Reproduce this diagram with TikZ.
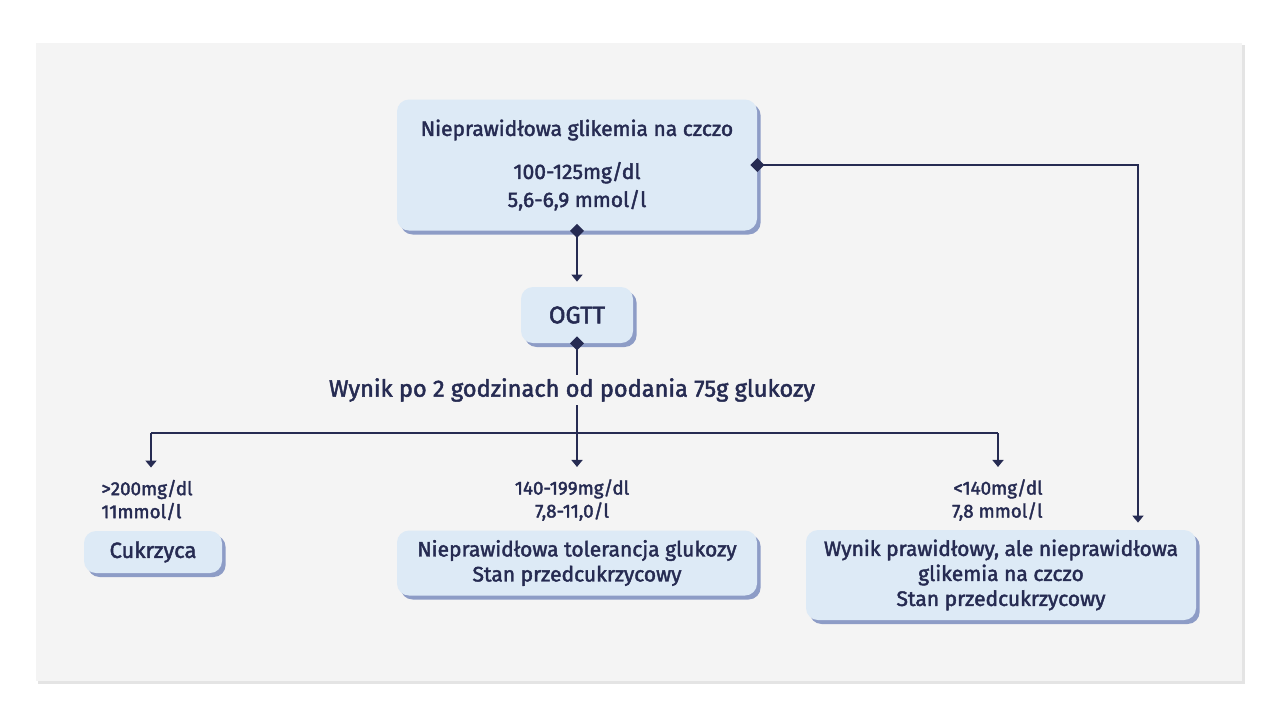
\documentclass[tikz,border=0pt]{standalone}
\usepackage{fontspec}
\setmainfont{Fira Sans}[FakeBold=2]
\usetikzlibrary{arrows.meta,shadows}
\definecolor{panelbg}{HTML}{F4F4F4}
\definecolor{panelrim}{HTML}{E4E4E4}
\definecolor{boxfill}{HTML}{DDEAF6}
\definecolor{boxshade}{HTML}{8D9CC6}
\definecolor{ink}{HTML}{262B52}

\begin{document}
\begin{tikzpicture}[x=0.5pt,y=-0.5pt,
	box/.style={fill=boxfill, rounded corners=6pt, text=ink, align=center, inner sep=0pt,
		drop shadow={shadow xshift=1.8pt, shadow yshift=-2pt, fill=boxshade, opacity=1},
		font=\fontsize{10.5}{12.5}\selectfont},
	lbl/.style={text=ink, inner sep=0pt, font=\fontsize{9.4}{11.5}\selectfont},
	wire/.style={draw=ink, line width=0.9pt},
	conn/.style={wire, -{Triangle[length=3.5pt,width=5.5pt]}},
	dwire/.style={wire, {Diamond[length=7pt,width=7pt]}-, shorten <=-3.5pt},
	dconn/.style={wire, {Diamond[length=7pt,width=7pt]}-{Triangle[length=3.5pt,width=5.5pt]}, shorten <=-3.5pt}]
		% Grey panel behind everything
		\fill[panelrim] (38,45) rectangle (1245,684);
		\fill[panelbg] (36,43) rectangle (1242,681);
		\useasboundingbox (0,0) rectangle (1280,720);
		
		% Boxes
		\node[box, minimum width=180pt, minimum height=65.5pt, font=\fontsize{10.5}{14}\selectfont] (top) at (577,165)
			{Nieprawidłowa glikemia na czczo\\[7.5pt]100-125mg/dl\\5,6-6,9 mmol/l};
		\node[box, minimum width=56pt, minimum height=28pt, font=\fontsize{12}{14}\selectfont] (ogtt) at (577,315) {OGTT};
		\node[box, minimum width=69pt, minimum height=21pt, font=\fontsize{11}{13}\selectfont] (cuk) at (153,552) {Cukrzyca};
		\node[box, minimum width=180pt, minimum height=32.5pt] (ntg) at (577,563)
			{Nieprawidłowa tolerancja glukozy\\Stan przedcukrzycowy};
		\node[box, minimum width=195pt, minimum height=45pt] (norm) at (1001,575)
			{Wynik prawidłowy, ale nieprawidłowa\\glikemia na czczo\\Stan przedcukrzycowy};
		
		% Text between the boxes
		\node[text=ink, inner sep=1.5pt, font=\fontsize{11.8}{13}\selectfont] (wynik) at (572,390)
			{Wynik po 2 godzinach od podania 75g glukozy};
		\node[lbl, anchor=west, align=left] (lcuk) at (101,500) {>200mg/dl\\11mmol/l};
		\node[lbl, align=center] (lntg) at (572,500) {140-199mg/dl\\7,8-11,0/l};
		\node[lbl, anchor=east, align=right] (lnorm) at (1043,500) {<140mg/dl\\7,8 mmol/l};
		
		% Branch points of the result line
		\coordinate (jl) at (151,433);
		\coordinate (jr) at (998,433);
		
		% Connectors
		\draw[dconn, shorten >=2.5pt] (top.south) -- (ogtt.north);
		\draw[dconn, shorten >=3.5pt] (top.east) -| ([xshift=68.5pt]norm.north);
		\draw[dwire] (ogtt.south) -- (wynik.north -| ogtt.south);
		\draw[conn, shorten >=6pt] (wynik.south -| ogtt.south) -- (lntg.north -| ogtt.south);
		\draw[wire] (jl) -- (jr);
		\draw[conn, shorten >=6pt] (jl) -- (jl |- lcuk.north);
		\draw[conn, shorten >=6pt] (jr) -- (jr |- lnorm.north);
	\end{tikzpicture}
\end{document}
